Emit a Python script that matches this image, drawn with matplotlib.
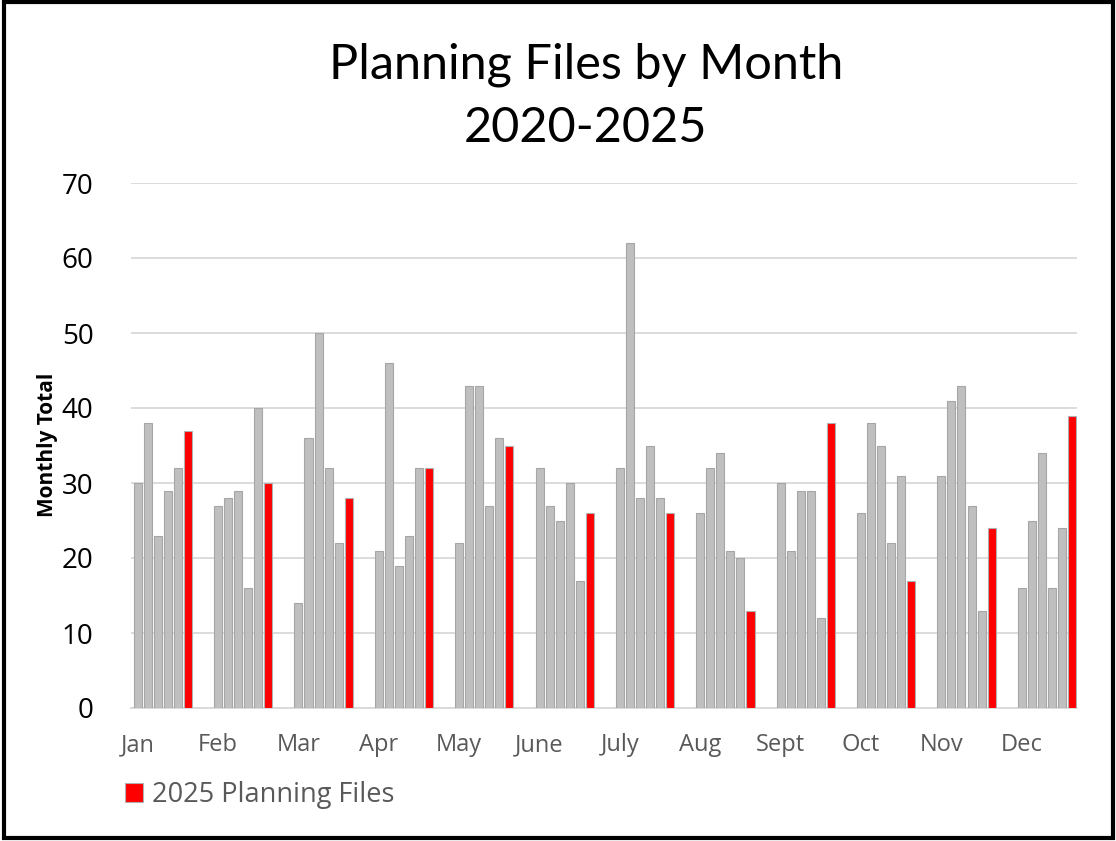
import numpy as np
import matplotlib
matplotlib.use("Agg")
import matplotlib.pyplot as plt
import matplotlib.patches as mpatches

months = ["Jan", "Feb", "Mar", "Apr", "May", "June", "July", "Aug", "Sept", "Oct", "Nov", "Dec"]

# one list per year, Jan..Dec
y2020 = [30, 27, 14, 21, 22, 32, 32, 26, 30, 26, 31, 16]
y2021 = [38, 28, 36, 46, 43, 27, 62, 32, 21, 38, 41, 25]
y2022 = [23, 29, 50, 19, 43, 25, 28, 34, 29, 35, 43, 34]
y2023 = [29, 16, 32, 23, 27, 30, 35, 21, 29, 22, 27, 16]
y2024 = [32, 40, 22, 32, 36, 17, 28, 20, 12, 31, 13, 24]
y2025 = [37, 30, 28, 32, 35, 26, 26, 13, 38, 17, 24, 39]

gray_years = [y2020, y2021, y2022, y2023, y2024]

W, H = 1116, 841
fig = plt.figure(figsize=(W / 100, H / 100), dpi=100)
ax = fig.add_axes([131 / W, 1 - 708 / H, (1076.5 - 131) / W, (708 - 183) / H])

base = np.arange(len(months)) * 8
for j, vals in enumerate(gray_years):
    ax.bar(base + j + 0.5, vals, width=0.8, color="#BFBFBF",
           edgecolor="#A6A6A6", linewidth=0.8, zorder=3)
ax.bar(base + 5 + 0.5, y2025, width=0.8, color="#FF0000",
       edgecolor="#B0B0B0", linewidth=0.8, zorder=3)

ax.set_xlim(-0.17, 93.95)
ax.set_ylim(0, 70)
ax.set_yticks(np.arange(0, 71, 10))
ax.set_xticks(base + 0.5)
ax.set_xticklabels(months, fontfamily="Open Sans", fontsize=17, color="#595959")
ax.tick_params(axis="x", length=0, pad=18)
ax.tick_params(axis="y", length=0, pad=27, labelsize=20)
for t in ax.get_yticklabels():
    t.set_fontfamily("Open Sans")

ax.grid(axis="y", color="#D9D9D9", linewidth=1.3, zorder=0)
for s in ["top", "right", "left"]:
    ax.spines[s].set_visible(False)
ax.spines["bottom"].set_color("#D9D9D9")
ax.spines["bottom"].set_linewidth(1.3)

fig.text(47 / W, 1 - 445 / H, "Monthly Total", rotation=90, ha="center", va="center",
         fontfamily="Open Sans", fontweight="bold", fontsize=15)

fig.text(586 / W, 1 - 65 / H, "Planning Files by Month", ha="center", va="center",
         fontfamily="Lato", fontsize=35)
fig.text(586 / W, 1 - 128 / H, "2020-2025", ha="center", va="center",
         fontfamily="Lato", fontsize=35)

red_patch = mpatches.Patch(facecolor="#FF0000", edgecolor="#B0B0B0", linewidth=0.8,
                           label="2025 Planning Files")
leg = fig.legend(handles=[red_patch], loc="center left",
                 bbox_to_anchor=(125 / W, 1 - 795 / H), frameon=False,
                 borderpad=0, borderaxespad=0, handlelength=0.65, handleheight=0.65,
                 handletextpad=0.35, prop={"family": "Open Sans", "size": 19.5})
for t in leg.get_texts():
    t.set_color("#595959")

fig.patches.append(mpatches.Rectangle((4 / W, 3 / H), (1113 - 4) / W, (839 - 3) / H,
                                      transform=fig.transFigure, fill=False,
                                      edgecolor="black", linewidth=3))

fig.savefig("out.png", dpi=100, facecolor="white")
